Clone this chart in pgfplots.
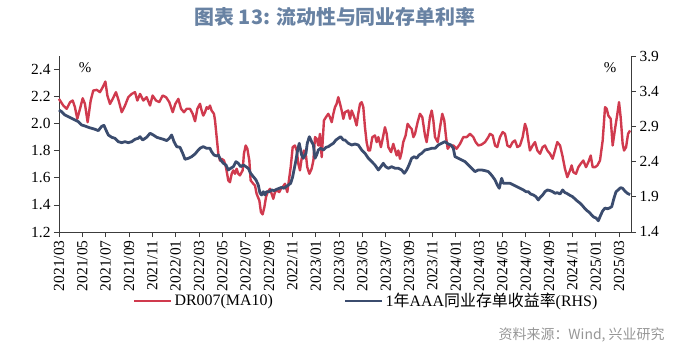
\documentclass[border=0pt]{standalone}
\usepackage{pgfplots}
\usepackage{pgfplotstable}
\pgfplotsset{compat=1.18}
\usepackage{fontspec}
\setmainfont{Liberation Serif}
\newfontfamily\cjk{Noto Sans CJK SC}
\definecolor{redline}{RGB}{208,58,78}
\definecolor{blueline}{RGB}{59,76,110}
\definecolor{titlecol}{RGB}{104,130,163}
\definecolor{axcol}{RGB}{60,60,60}
\definecolor{srccol}{RGB}{150,150,150}

\pgfplotstableread{
m v
0.04 2.183
0.41 2.134
0.70 2.110
0.98 2.159
1.21 2.171
1.40 2.122
1.60 2.036
1.83 2.110
2.06 2.188
2.25 2.146
2.48 2.011
2.74 2.171
2.96 2.245
3.25 2.250
3.53 2.233
3.76 2.269
3.99 2.311
4.16 2.208
4.38 2.146
4.61 2.183
4.89 2.233
5.12 2.171
5.38 2.085
5.66 2.134
5.94 2.196
6.23 2.220
6.51 2.233
6.71 2.171
6.94 2.220
7.22 2.171
7.50 2.196
7.79 2.134
8.01 2.208
8.30 2.171
8.58 2.159
8.86 2.208
9.15 2.196
9.43 2.159
9.72 2.085
9.94 2.146
10.20 2.183
10.43 2.110
10.68 2.085
10.91 2.110
11.19 2.110
11.42 2.073
11.62 2.018
11.82 2.110
12.04 2.147
12.18 2.097
12.32 2.060
12.47 2.085
12.61 2.122
12.75 2.110
12.89 2.134
13.03 2.097
13.23 2.073
13.32 2.024
13.46 1.901
13.60 1.778
13.74 1.728
13.88 1.741
14.08 1.728
14.25 1.679
14.45 1.581
14.59 1.568
14.74 1.630
14.88 1.655
15.02 1.630
15.16 1.667
15.30 1.630
15.44 1.618
15.67 1.655
15.78 1.778
15.93 1.839
16.07 1.815
16.24 1.728
16.35 1.581
16.58 1.556
16.72 1.544
16.86 1.482
17.09 1.433
17.23 1.347
17.37 1.330
17.52 1.384
17.66 1.458
17.80 1.495
18.00 1.519
18.14 1.482
18.28 1.445
18.42 1.495
18.57 1.507
18.79 1.495
18.93 1.519
19.08 1.532
19.27 1.556
19.47 1.495
19.61 1.581
19.76 1.679
19.93 1.827
20.12 1.839
20.27 1.802
20.41 1.704
20.55 1.655
20.69 1.741
20.89 1.802
21.06 1.765
21.17 1.679
21.35 1.630
21.54 1.667
21.69 1.728
21.83 1.901
21.97 1.888
22.11 1.839
22.25 1.925
22.40 1.753
22.59 2.024
22.76 2.048
22.96 2.073
23.10 2.048
23.25 2.011
23.39 2.073
23.53 2.122
23.67 2.147
23.81 2.196
23.96 2.147
24.10 2.097
24.24 2.036
24.38 2.085
24.66 2.097
24.81 2.036
24.95 2.097
25.17 2.048
25.37 1.987
25.51 2.073
25.66 2.147
25.80 2.159
25.94 2.122
26.08 1.974
26.22 1.864
26.37 1.802
26.51 1.802
26.71 1.901
26.93 1.913
27.08 1.864
27.22 1.901
27.44 1.827
27.64 1.913
27.78 1.974
27.93 1.925
28.07 1.827
28.30 1.790
28.49 1.851
28.78 1.765
28.92 1.802
29.06 1.741
29.20 1.790
29.34 1.864
29.54 1.913
29.71 1.999
29.91 1.974
30.05 1.962
30.20 1.901
30.34 1.925
30.56 2.011
30.76 2.073
30.96 2.048
31.19 1.913
31.33 1.864
31.47 1.950
31.61 2.048
31.76 2.097
31.90 2.024
32.04 1.901
32.27 1.864
32.47 1.974
32.66 2.073
32.83 2.024
32.98 1.901
33.12 1.815
33.32 1.839
33.60 1.839
33.88 1.815
34.17 1.851
34.45 1.901
34.74 1.901
35.02 1.925
35.30 1.901
35.50 1.864
35.73 1.839
36.01 1.846
36.30 1.864
36.58 1.901
36.72 1.925
36.95 1.913
37.15 1.839
37.34 1.827
37.57 1.901
37.80 1.938
38.00 1.925
38.20 1.839
38.42 1.827
38.65 1.864
38.85 1.876
39.05 1.827
39.27 1.839
39.50 1.901
39.70 1.999
39.84 1.962
39.98 1.876
40.12 1.802
40.35 1.839
40.55 1.864
40.75 1.802
40.98 1.778
41.20 1.827
41.40 1.839
41.60 1.802
41.83 1.778
42.05 1.741
42.25 1.802
42.45 1.864
42.68 1.839
42.88 1.765
43.10 1.667
43.30 1.605
43.53 1.655
43.67 1.692
43.81 1.642
44.04 1.630
44.24 1.679
44.44 1.704
44.66 1.728
44.89 1.679
45.09 1.716
45.29 1.765
45.46 1.679
45.66 1.679
45.86 1.692
46.08 1.728
46.31 1.876
46.51 2.122
46.65 2.110
46.79 2.060
46.99 2.036
47.16 1.839
47.36 1.962
47.56 2.073
47.70 2.159
47.84 2.048
48.01 1.851
48.13 1.802
48.30 1.827
48.47 1.925
48.64 1.950
}\reddata

\pgfplotstableread{
m v
0.04 3.133
0.27 3.109
0.55 3.062
0.84 3.038
1.12 3.015
1.40 2.991
1.69 2.967
1.97 2.920
2.25 2.906
2.54 2.887
2.82 2.873
3.11 2.859
3.39 2.840
3.67 2.900
3.87 2.915
4.04 2.849
4.24 2.778
4.53 2.745
4.81 2.731
5.09 2.683
5.38 2.669
5.66 2.683
5.94 2.669
6.23 2.683
6.51 2.717
6.79 2.731
6.94 2.754
7.16 2.707
7.50 2.745
7.79 2.802
8.07 2.778
8.36 2.745
8.64 2.731
8.92 2.717
9.21 2.698
9.43 2.731
9.63 2.778
9.83 2.683
10.06 2.612
10.34 2.603
10.57 2.518
10.77 2.433
11.05 2.447
11.33 2.470
11.62 2.508
11.90 2.565
12.04 2.589
12.32 2.612
12.61 2.589
12.89 2.589
13.03 2.541
13.23 2.494
13.46 2.480
13.60 2.494
13.80 2.423
14.03 2.376
14.25 2.352
14.45 2.281
14.65 2.305
14.88 2.328
15.10 2.399
15.30 2.376
15.50 2.328
15.73 2.352
15.95 2.328
16.15 2.305
16.35 2.234
16.58 2.186
16.81 2.139
17.00 2.068
17.15 1.950
17.29 1.926
17.43 1.973
17.57 1.926
17.71 1.973
17.94 1.973
18.14 1.997
18.34 1.988
18.57 2.007
18.79 2.021
18.99 2.035
19.19 2.021
19.36 2.044
19.56 2.068
19.76 2.092
19.93 2.186
20.07 2.305
20.21 2.423
20.35 2.565
20.49 2.660
20.69 2.494
20.83 2.447
21.06 2.518
21.17 2.660
21.35 2.754
21.54 2.683
21.69 2.636
21.83 2.447
21.97 2.494
22.11 2.565
22.31 2.589
22.54 2.565
22.76 2.603
22.96 2.612
23.16 2.636
23.39 2.660
23.61 2.707
23.81 2.731
24.01 2.754
24.24 2.707
24.38 2.707
24.66 2.660
24.95 2.636
25.23 2.650
25.51 2.636
25.80 2.565
26.08 2.518
26.37 2.447
26.65 2.400
26.93 2.352
27.22 2.281
27.44 2.328
27.64 2.376
27.84 2.328
28.07 2.305
28.35 2.328
28.64 2.305
28.92 2.305
29.20 2.281
29.43 2.234
29.63 2.281
29.83 2.352
30.05 2.447
30.28 2.470
30.48 2.447
30.68 2.494
30.91 2.518
31.19 2.565
31.47 2.575
31.76 2.589
32.04 2.589
32.32 2.636
32.61 2.660
32.89 2.683
33.17 2.650
33.40 2.636
33.60 2.589
33.74 2.470
34.03 2.447
34.31 2.423
34.59 2.400
34.88 2.352
35.16 2.305
35.44 2.258
35.73 2.281
36.01 2.281
36.30 2.271
36.58 2.258
36.72 2.234
36.95 2.186
37.15 2.139
37.34 2.068
37.51 2.021
37.71 2.163
37.85 2.092
38.14 2.092
38.42 2.092
38.71 2.068
38.99 2.045
39.27 2.021
39.56 1.997
39.78 1.973
39.98 1.973
40.18 1.940
40.41 1.926
40.63 1.902
40.83 1.855
40.98 1.890
41.20 1.926
41.40 1.973
41.60 1.997
41.83 1.988
42.05 1.973
42.25 1.950
42.45 1.959
42.68 1.940
42.90 1.997
43.10 1.959
43.25 1.950
43.53 1.920
43.76 1.900
43.95 1.870
44.15 1.840
44.38 1.810
44.61 1.770
44.81 1.730
45.00 1.700
45.17 1.680
45.37 1.640
45.57 1.610
45.74 1.600
45.94 1.560
46.14 1.640
46.31 1.700
46.51 1.740
46.71 1.730
46.88 1.740
47.08 1.760
47.27 1.880
47.44 1.970
47.64 2.000
47.84 2.030
48.01 2.020
48.21 1.980
48.41 1.950
48.64 1.930
}\bluedata

\pgfplotsset{
  common/.style={
    width=572bp, height=176bp, scale only axis,
    at={(0bp,0bp)}, anchor=south west,
    xmin=0.043, xmax=48.72,
    axis line style={-, axcol, line width=0.8bp},
    tick style={axcol, line width=0.8bp},
    tick align=outside, major tick length=5bp,
    tick label style={font=\fontsize{15.5}{16}\selectfont, text=black},
    /pgf/number format/assume math mode=true,
    yticklabel style={/pgf/number format/.cd, fixed, fixed zerofill, precision=1},
    clip=false,
  }
}

\begin{document}
\begin{tikzpicture}
\useasboundingbox (-59bp,-119bp) rectangle (641bp,232bp);

\begin{axis}[common,
  axis y line*=left, axis x line*=bottom,
  ymin=1.2, ymax=2.5,
  ytick={1.2,1.4,1.6,1.8,2.0,2.2,2.4},
  xtick={0.043,2.029,4.015,6.001,7.987,9.972,11.958,13.944,15.930,17.916,19.902,21.888,23.873,25.859,27.845,29.831,31.817,33.803,35.789,37.775,39.760,41.746,43.732,45.718,47.704},
  xticklabels={2021/03,2021/05,2021/07,2021/09,2021/11,2022/01,2022/03,2022/05,2022/07,2022/09,2022/11,2023/01,2023/03,2023/05,2023/07,2023/09,2023/11,2024/01,2024/03,2024/05,2024/07,2024/09,2024/11,2025/01,2025/03},
  xticklabel style={rotate=90, anchor=east},
]
\addplot[redline, line width=2.4bp, line join=round] table[x=m,y=v] {\reddata};
\end{axis}

\begin{axis}[common,
  axis y line*=right, hide x axis,
  ymin=1.4, ymax=3.9,
  ytick={1.4,1.9,2.4,2.9,3.4,3.9},
  legend columns=2,
  legend style={draw=none, fill=none, at={(0.537,-0.392)}, anchor=center,
    font=\fontsize{16}{16}\selectfont,
    /tikz/every even column/.append style={column sep=69bp}},
  legend image code/.code={\draw[#1] (0bp,0bp) -- (37bp,0bp);},
]
\addlegendimage{redline, line width=2.6bp}
\addlegendentry{DR007(MA10)}
\addplot[blueline, line width=2.8bp, line join=round] table[x=m,y=v] {\bluedata};
\addlegendentry{1{\cjk 年}AAA{\cjk 同业存单收益率}(RHS)}
\end{axis}

\node[font=\fontsize{15}{15}\selectfont] at (26bp,164bp) {\%};
\node[font=\fontsize{15}{15}\selectfont] at (551bp,164bp) {\%};
\node[font=\cjk\bfseries\fontsize{20}{20}\selectfont, text=titlecol] at (276bp,215bp) {图表 13: 流动性与同业存单利率};
\node[font=\cjk\fontsize{14}{14}\selectfont, text=srccol, anchor=east] at (609bp,-103bp) {资料来源：Wind, 兴业研究};
\end{tikzpicture}
\end{document}
